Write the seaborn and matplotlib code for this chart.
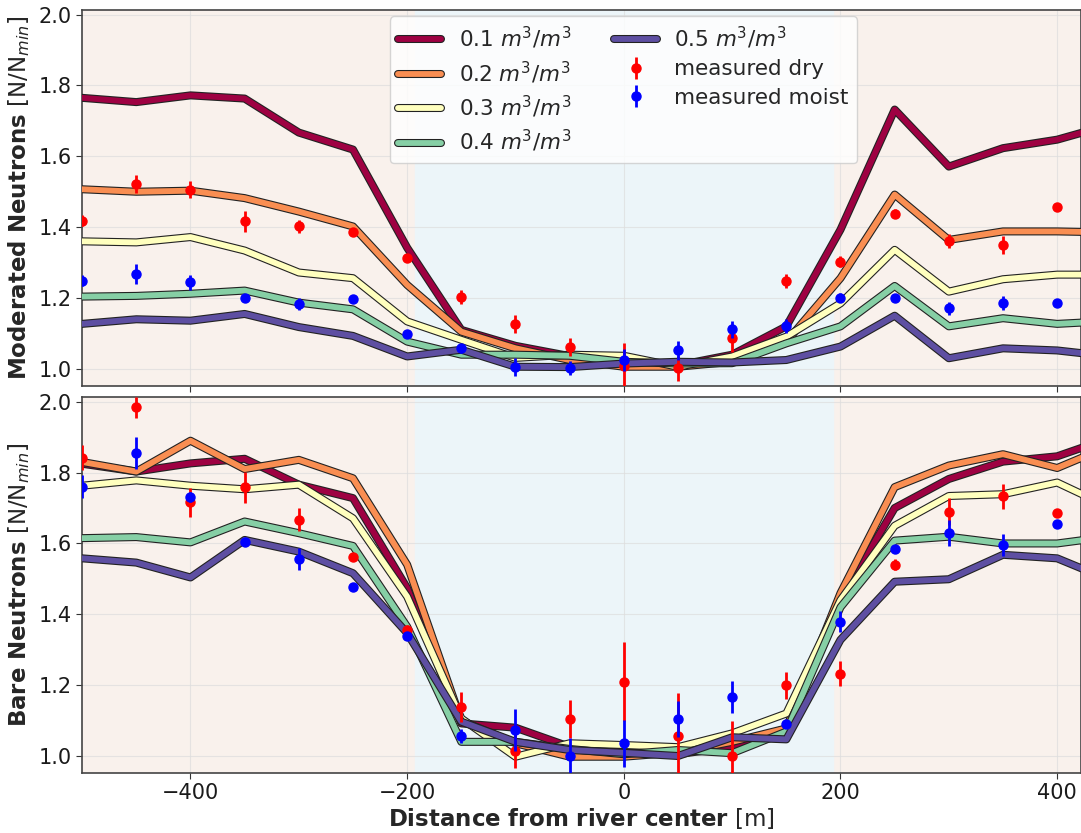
import numpy as np
import pandas as pd
import matplotlib.pyplot as plt
import matplotlib.patheffects as pe
import seaborn as sns

# distances for model lines and measurements
x_model = [-500, -450, -400, -350, -300, -250, -200, -150, -100, -50,
           0, 50, 100, 150, 200, 250, 300, 350, 400, 450]
x_meas = x_model[:-1]

moisture = ['0.1', '0.2', '0.3', '0.4', '0.5']

# moderated neutrons, model curves
mod_01 = [1.765, 1.753, 1.772, 1.763, 1.667, 1.619, 1.342, 1.11, 1.065, 1.036,
          1.02, 1.01, 1.04, 1.12, 1.393, 1.732, 1.571, 1.623, 1.647, 1.69]
mod_02 = [1.507, 1.50, 1.503, 1.482, 1.444, 1.402, 1.237, 1.105, 1.058, 1.025,
          1.006, 1.006, 1.02, 1.077, 1.256, 1.492, 1.364, 1.388, 1.388, 1.385]
mod_03 = [1.36, 1.357, 1.372, 1.334, 1.272, 1.256, 1.134, 1.082, 1.031, 1.04,
          1.037, 1.006, 1.035, 1.091, 1.185, 1.336, 1.218, 1.253, 1.266, 1.266]
mod_04 = [1.204, 1.206, 1.212, 1.221, 1.187, 1.168, 1.077, 1.04, 1.04, 1.037,
          1.02, 1.015, 1.016, 1.072, 1.12, 1.234, 1.12, 1.143, 1.127, 1.135]
mod_05 = [1.127, 1.14, 1.136, 1.155, 1.118, 1.093, 1.035, 1.054, 1.006, 1.005,
          1.015, 1.02, 1.018, 1.025, 1.063, 1.15, 1.03, 1.058, 1.052, 1.035]

# bare neutrons, model curves
bare_01 = [1.825, 1.803, 1.826, 1.839, 1.766, 1.728, 1.474, 1.092, 1.08, 1.026,
           1.01, 1.005, 1.026, 1.078, 1.44, 1.70, 1.782, 1.831, 1.846, 1.899]
bare_02 = [1.83, 1.803, 1.89, 1.81, 1.836, 1.784, 1.54, 1.10, 1.036, 0.998,
           0.998, 1.01, 1.04, 1.078, 1.46, 1.759, 1.82, 1.852, 1.813, 1.877]
bare_03 = [1.763, 1.778, 1.763, 1.753, 1.766, 1.671, 1.45, 1.106, 0.998, 1.036,
           1.031, 1.025, 1.064, 1.12, 1.44, 1.65, 1.734, 1.739, 1.772, 1.70]
bare_04 = [1.615, 1.618, 1.603, 1.662, 1.629, 1.593, 1.365, 1.04, 1.04, 1.02,
           1.005, 1.017, 1.008, 1.069, 1.42, 1.608, 1.619, 1.60, 1.60, 1.62]
bare_05 = [1.558, 1.546, 1.504, 1.61, 1.577, 1.516, 1.347, 1.097, 1.04, 1.017,
           1.009, 1.0, 1.053, 1.047, 1.328, 1.492, 1.499, 1.568, 1.558, 1.495]

# measurements
mod_dry = [1.418, 1.522, 1.506, 1.416, 1.402, 1.386, 1.313, 1.203, 1.127, 1.061,
           1.008, 1.002, 1.087, 1.249, 1.303, 1.438, 1.362, 1.35, 1.457]
mod_dry_err = [0.015, 0.025, 0.025, 0.03, 0.018, 0.012, 0.012, 0.02, 0.026, 0.025,
               0.065, 0.035, 0.04, 0.02, 0.015, 0.012, 0.02, 0.025, 0.01]
mod_moist = [1.249, 1.267, 1.244, 1.2, 1.183, 1.198, 1.099, 1.058, 1.006, 1.002,
             1.025, 1.052, 1.112, 1.122, 1.201, 1.201, 1.171, 1.187, 1.187]
mod_moist_err = [0.015, 0.028, 0.02, 0.01, 0.018, 0.01, 0.01, 0.012, 0.025, 0.02,
                 0.03, 0.026, 0.024, 0.02, 0.012, 0.01, 0.018, 0.02, 0.01]

bare_dry = [1.842, 1.984, 1.716, 1.758, 1.667, 1.563, 1.356, 1.139, 1.015, 1.104,
            1.21, 1.056, 1.0, 1.2, 1.232, 1.54, 1.69, 1.733, 1.686]
bare_dry_err = [0.035, 0.03, 0.04, 0.045, 0.033, 0.01, 0.015, 0.042, 0.05, 0.053,
                0.112, 0.123, 0.1, 0.038, 0.035, 0.015, 0.037, 0.035, 0.01]
bare_moist = [1.76, 1.855, 1.731, 1.605, 1.556, 1.478, 1.339, 1.056, 1.073, 1.0,
              1.036, 1.104, 1.166, 1.09, 1.379, 1.584, 1.629, 1.596, 1.655]
bare_moist_err = [0.033, 0.046, 0.015, 0.01, 0.03, 0.01, 0.01, 0.02, 0.06, 0.05,
                  0.067, 0.05, 0.045, 0.01, 0.03, 0.01, 0.036, 0.03, 0.01]

river_half = 193

sns.set_style('ticks')
plt.rcParams['font.family'] = ['DejaVu Sans']

colors = plt.cm.Spectral(np.linspace(0, 1, 5))

fig, axes = plt.subplots(2, 1, figsize=(10.81, 8.33), dpi=100, sharex=True)
fig.subplots_adjust(left=0.076, right=1.0, top=0.988, bottom=0.072, hspace=0.03)

panels = [
    (axes[0], [mod_01, mod_02, mod_03, mod_04, mod_05], mod_dry, mod_dry_err,
     mod_moist, mod_moist_err, r'$\bf{Moderated\ Neutrons}$ [N/N$_{min}$]'),
    (axes[1], [bare_01, bare_02, bare_03, bare_04, bare_05], bare_dry, bare_dry_err,
     bare_moist, bare_moist_err, r'$\bf{Bare\ Neutrons}$ [N/N$_{min}$]'),
]

for ax, curves, dry, dry_err, moist, moist_err, ylab in panels:
    ax.axvspan(-600, -river_half, color='#f9f1ec', zorder=0)
    ax.axvspan(river_half, 600, color='#f9f1ec', zorder=0)
    ax.axvspan(-river_half, river_half, color='#ecf5f9', zorder=0)

    df = pd.DataFrame({'x': x_model * 5,
                       'y': np.concatenate(curves),
                       'sm': np.repeat(moisture, len(x_model))})
    for i, m in enumerate(moisture):
        sub = df[df['sm'] == m]
        sns.lineplot(data=sub, x='x', y='y', ax=ax, color=colors[i], lw=4.2,
                     label=f'{m} $m^3/m^3$', zorder=3 + i)
        ax.lines[-1].set_path_effects([pe.withStroke(linewidth=5.8, foreground='#222222')])

    ax.errorbar(x_meas, dry, yerr=dry_err, fmt='o', color='red', ms=6.5,
                elinewidth=2, capsize=0, zorder=10, label='measured dry')
    ax.errorbar(x_meas, moist, yerr=moist_err, fmt='o', color='blue', ms=6.5,
                elinewidth=2, capsize=0, zorder=11, label='measured moist')

    ax.set_ylabel(ylab, fontsize=16.5, labelpad=5)
    ax.set_xlabel('')
    ax.set_ylim(0.952, 2.013)
    ax.set_yticks([1.0, 1.2, 1.4, 1.6, 1.8, 2.0])
    ax.grid(True, color='#dddddd', lw=0.8, alpha=0.7)
    ax.tick_params(labelsize=15, length=4, color='#333333', labelcolor='#1a1a1a')
    for s in ax.spines.values():
        s.set_color('#444444')
        s.set_linewidth(1.2)
    for gl in ax.get_xgridlines() + ax.get_ygridlines():
        gl.set_zorder(1)

axes[1].set_xlim(-500, 422)
axes[1].set_xticks([-400, -200, 0, 200, 400])
axes[1].set_xlabel(r'$\bf{Distance\ from\ river\ center}$ [m]', fontsize=16.5, labelpad=2)
axes[1].get_legend().remove()

leg = axes[0].legend(loc='upper center', ncol=2, fontsize=15.5, framealpha=0.8,
                     borderaxespad=0.3, handlelength=2.0, handletextpad=0.8,
                     labelspacing=0.38, columnspacing=2.0,
                     bbox_to_anchor=(0.542, 1.0))
leg.set_zorder(20)

fig.savefig('out.png', dpi=100)
